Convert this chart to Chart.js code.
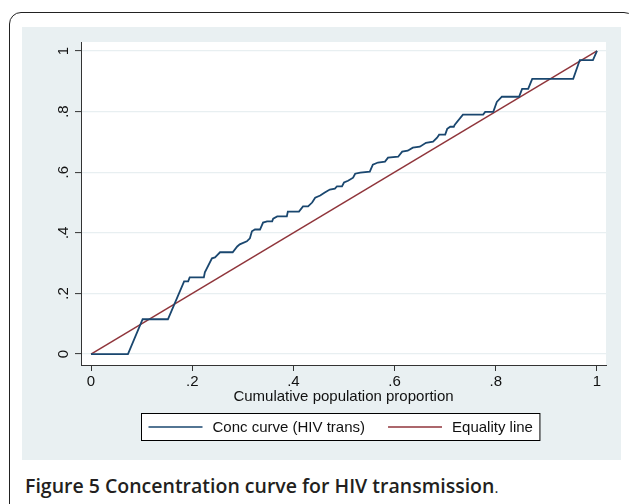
<!DOCTYPE html>
<html>
<head>
<meta charset="utf-8">
<script src="https://cdn.jsdelivr.net/npm/chart.js@4"></script>
<style>
  html, body { margin: 0; padding: 0; background: #fff; width: 629px; height: 504px; overflow: hidden; }
  #frame { position: absolute; left: 9px; top: 12px; width: 627px; height: 520px; border: 1.5px solid #222; border-radius: 12px; box-sizing: border-box; }
  #panel { position: absolute; left: 22px; top: 27px; width: 599px; height: 433px; background: #e9f0f2; }
  #caption { position: absolute; left: 25px; top: 472px; font-family: "Open Sans", sans-serif; font-weight: 600; font-size: 19.5px; color: #231f20; white-space: nowrap; }
  #caption span { font-weight: 400; font-size: 15px; }
</style>
</head>
<body>
<div id="frame"></div>
<div id="panel"><canvas id="concChart" width="599" height="433"></canvas></div>
<div id="caption">Figure 5 Concentration curve for HIV transmission<span>.</span></div>
<script>
// concentration curve points
const concX = [0, 0.073, 0.102, 0.152, 0.184, 0.192, 0.195, 0.223, 0.225, 0.239, 0.245, 0.249, 0.255, 0.280,
  0.289, 0.294, 0.308, 0.314, 0.318, 0.324, 0.334, 0.340, 0.348, 0.358, 0.360, 0.368, 0.387, 0.389,
  0.411, 0.419, 0.429, 0.437, 0.443, 0.453, 0.462, 0.472, 0.482, 0.486, 0.496, 0.500, 0.508, 0.518,
  0.522, 0.532, 0.551, 0.557, 0.567, 0.581, 0.587, 0.607, 0.615, 0.626, 0.636, 0.650, 0.662, 0.676,
  0.684, 0.688, 0.700, 0.704, 0.710, 0.717, 0.719, 0.735, 0.775, 0.779, 0.795, 0.802, 0.812, 0.846,
  0.852, 0.864, 0.872, 0.953, 0.966, 0.992, 1];
const concY = [0, 0, 0.115, 0.115, 0.240, 0.240, 0.253, 0.253, 0.270, 0.316, 0.319, 0.326, 0.336, 0.336,
  0.355, 0.362, 0.372, 0.382, 0.405, 0.411, 0.411, 0.434, 0.438, 0.438, 0.447, 0.454, 0.454, 0.470,
  0.470, 0.487, 0.487, 0.500, 0.516, 0.523, 0.533, 0.543, 0.546, 0.553, 0.553, 0.566, 0.572, 0.582,
  0.595, 0.599, 0.602, 0.625, 0.632, 0.635, 0.648, 0.651, 0.668, 0.671, 0.681, 0.684, 0.697, 0.701,
  0.714, 0.724, 0.724, 0.743, 0.750, 0.750, 0.757, 0.790, 0.790, 0.799, 0.799, 0.832, 0.849, 0.849,
  0.875, 0.875, 0.908, 0.908, 0.970, 0.970, 1];
const eqX = [0, 1];
const eqY = [0, 1];
const tickValues = [0, 0.2, 0.4, 0.6, 0.8, 1];
const tickLabels = ['0', '.2', '.4', '.6', '.8', '1'];
const seriesNames = ['Conc curve (HIV trans)', 'Equality line'];

const navy = '#1a476f';
const maroon = '#90353b';
const axisFont = { family: 'Liberation Sans, Arial, sans-serif', size: 15 };

function toPoints(xs, ys) {
  return xs.map((x, i) => ({ x: x, y: ys[i] }));
}

// white plot region on the grey panel
const plotBg = {
  id: 'plotBg',
  beforeDraw(chart) {
    const a = chart.chartArea;
    const c = chart.ctx;
    c.save();
    c.fillStyle = '#ffffff';
    c.fillRect(a.left, a.top, a.right - a.left, a.bottom - a.top);
    c.restore();
  }
};

// stata style framed legend under the axis title
const boxLegend = {
  id: 'boxLegend',
  afterDraw(chart) {
    const c = chart.ctx;
    c.save();
    c.font = '15px ' + axisFont.family;
    const lineLen = 54, gap = 10, between = 23, pad = 7;
    const ds = chart.data.datasets;
    const widths = ds.map(d => c.measureText(d.label).width);
    let total = pad * 2 + between * (ds.length - 1);
    widths.forEach(w => { total += lineLen + gap + w; });
    const cx = 318, top = 386, h = 27;
    let x = Math.round(cx - total / 2) + 0.5;
    c.fillStyle = '#fff';
    c.fillRect(x, top + 0.5, total, h);
    c.strokeStyle = '#000';
    c.lineWidth = 1;
    c.strokeRect(x, top + 0.5, total, h);
    const mid = top + h / 2 + 0.5;
    x += pad;
    ds.forEach((d, i) => {
      c.strokeStyle = d.borderColor;
      c.lineWidth = 1.4;
      c.beginPath();
      c.moveTo(x, mid);
      c.lineTo(x + lineLen, mid);
      c.stroke();
      x += lineLen + gap;
      c.fillStyle = '#111';
      c.textBaseline = 'middle';
      c.fillText(d.label, x, mid + 1);
      x += widths[i] + between;
    });
    c.restore();
  }
};

const ctx = document.getElementById('concChart').getContext('2d');
const chart = new Chart(ctx, {
  type: 'line',
  data: {
    datasets: [
      {
        label: seriesNames[0],
        data: toPoints(concX, concY),
        borderColor: navy,
        borderWidth: 1.8,
        pointRadius: 0,
        fill: false,
        tension: 0
      },
      {
        label: seriesNames[1],
        data: toPoints(eqX, eqY),
        borderColor: maroon,
        borderWidth: 1.5,
        pointRadius: 0,
        fill: false,
        tension: 0
      }
    ]
  },
  options: {
    responsive: false,
    animation: false,
    layout: { padding: { left: 0, right: 15, top: 15, bottom: 54 } },
    plugins: {
      legend: { display: false },
      tooltip: { enabled: false }
    },
    scales: {
      x: {
        type: 'linear',
        min: -0.0198,
        max: 1.0178,
        afterBuildTicks: s => { s.ticks = tickValues.map(v => ({ value: v })); },
        afterFit: s => { s.height = 41; s.paddingLeft = 0; s.paddingRight = 0; },
        ticks: {
          color: '#111',
          font: axisFont,
          padding: 2,
          maxRotation: 0,
          callback: (v, i) => tickLabels[i]
        },
        grid: { drawOnChartArea: false, tickLength: 6, tickColor: '#333', tickWidth: 1 },
        border: { color: '#333', width: 1 },
        title: {
          display: true,
          text: 'Cumulative population proportion',
          color: '#111',
          font: axisFont,
          padding: { top: 0, bottom: 0 }
        }
      },
      y: {
        type: 'linear',
        min: -0.036,
        max: 1.0296,
        afterBuildTicks: s => { s.ticks = tickValues.map(v => ({ value: v })); },
        afterFit: s => { s.width = 59; s.paddingTop = 0; s.paddingBottom = 0; },
        ticks: {
          color: '#111',
          font: axisFont,
          padding: 5,
          minRotation: 90,
          maxRotation: 90,
          crossAlign: 'center',
          callback: (v, i) => tickLabels[i]
        },
        grid: { color: '#e8eff1', lineWidth: 1.2, tickLength: 6, tickColor: '#333', tickWidth: 1 },
        border: { color: '#333', width: 1 }
      }
    }
  },
  plugins: [plotBg, boxLegend]
});
</script>
</body>
</html>
